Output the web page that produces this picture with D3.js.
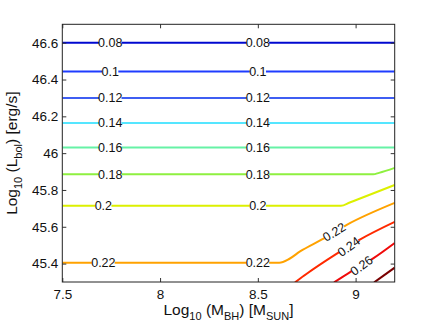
<!DOCTYPE html>
<html><head><meta charset="utf-8">
<script src="https://cdn.jsdelivr.net/npm/d3@7/dist/d3.min.js"></script>
<style>body{margin:0;background:#fff}svg{display:block}text{font-family:"Liberation Sans",Arial,sans-serif}</style>
</head><body><div id="c"></div>
<script>
const xTicks = [7.5, 8, 8.5, 9];
const yTicks = [45.4, 45.6, 45.8, 46, 46.2, 46.4, 46.6];
const levels = [0.08, 0.1, 0.12, 0.14, 0.16, 0.18, 0.2, 0.22, 0.24, 0.26, 0.28];
const levelColors = ["#0008d0", "#1f3cff", "#3f5ef2", "#55e6ff", "#66f2a6", "#8ef040", "#dcf000", "#ffa200", "#ff2a00", "#f00a0a", "#7a0000"];
// contour paths [log M_BH, log L_bol]
const c008 = [[7.5, 46.6], [9.2, 46.6]];
const c010 = [[7.5, 46.443], [9.2, 46.443]];
const c012 = [[7.5, 46.30], [9.2, 46.30]];
const c014 = [[7.5, 46.164], [9.2, 46.164]];
const c016 = [[7.5, 46.031], [9.2, 46.031]];
const c018 = [[7.5, 45.885], [9.09, 45.885], [9.12, 45.893], [9.2, 45.92]];
const c020 = [[7.5, 45.714], [8.925, 45.714], [8.97, 45.732], [9.2, 45.827]];
const c022 = [[7.5, 45.405], [8.61, 45.405], [8.66, 45.425], [8.716, 45.466], [8.828, 45.531], [8.955, 45.611], [9.2, 45.73]];
const c024 = [[8.69, 45.298], [8.75, 45.345], [8.896, 45.449], [9.024, 45.532], [9.2, 45.627]];
const c026 = [[8.89, 45.298], [8.972, 45.354], [9.088, 45.427], [9.2, 45.512]];
const c028 = [[9.095, 45.298], [9.2, 45.378]];
const contours = [c008, c010, c012, c014, c016, c018, c020, c022, c024, c026, c028];
// label positions [level index, x, y]
const labelsFlat = [[0, 7.745, 46.6], [1, 7.745, 46.443], [2, 7.745, 46.30], [3, 7.745, 46.164], [4, 7.745, 46.031], [5, 7.745, 45.885], [6, 7.71, 45.714], [7, 7.71, 45.405],
  [0, 8.5, 46.6], [1, 8.5, 46.443], [2, 8.5, 46.30], [3, 8.5, 46.164], [4, 8.5, 46.031], [5, 8.5, 45.885], [6, 8.5, 45.714], [7, 8.5, 45.405]];
const labelsCurve = [[7, 8.89, 45.572, -31], [8, 8.965, 45.493, -36], [9, 9.03, 45.39, -36]];

const W = 436, H = 328;
const m = {l: 62.3, t: 24.3, r: 394.7, b: 282};
const svg = d3.select("#c").append("svg").attr("width", W).attr("height", H);
const x = d3.scaleLinear().domain([7.5, 9.2]).range([m.l, m.r]);
const y = d3.scaleLinear().domain([45.3, 46.7]).range([m.b, m.t]);

svg.append("defs").append("clipPath").attr("id", "clip").append("rect")
  .attr("x", m.l).attr("y", m.t).attr("width", m.r - m.l).attr("height", m.b - m.t);

const line = d3.line().x(d => x(d[0])).y(d => y(d[1])).curve(d3.curveMonotoneX);
const g = svg.append("g").attr("clip-path", "url(#clip)");
contours.forEach((c, i) => {
  g.append("path").attr("d", line(c)).attr("fill", "none")
    .attr("stroke", levelColors[i]).attr("stroke-width", 2);
});
function fmt(v) { return String(+v.toFixed(2)); }
labelsFlat.forEach(([i, lx, ly]) => {
  const t = fmt(levels[i]);
  const w = t.length * 6.4 - 3;
  g.append("rect").attr("x", x(lx) - w / 2).attr("y", y(ly) - 3).attr("width", w).attr("height", 6).attr("fill", "#fff");
  g.append("text").attr("x", x(lx)).attr("y", y(ly) + 4.5).attr("text-anchor", "middle")
    .attr("font-size", 12.5).attr("fill", "#111").text(t);
});
labelsCurve.forEach(([i, lx, ly, a]) => {
  const t = fmt(levels[i]);
  const w = t.length * 6.4 - 3;
  const gg = g.append("g").attr("transform", `translate(${x(lx)},${y(ly)}) rotate(${a})`);
  gg.append("rect").attr("x", -w / 2).attr("y", -3).attr("width", w).attr("height", 6).attr("fill", "#fff");
  gg.append("text").attr("y", 4.5).attr("text-anchor", "middle").attr("font-size", 12.5).attr("fill", "#111").text(t);
});

// axes (MATLAB style, ticks inward)
const tl = 4;
svg.append("g").attr("transform", `translate(0,${m.b})`)
  .call(d3.axisBottom(x).tickValues(xTicks).tickSize(-tl).tickPadding(7).tickFormat(d => d))
  .call(s => { s.select(".domain").remove(); s.selectAll("text").attr("font-size", 13.5).attr("fill", "#111").attr("dy", "0.71em"); s.selectAll("line").attr("stroke", "#333"); });
svg.append("g").attr("transform", `translate(0,${m.t})`)
  .call(d3.axisTop(x).tickValues(xTicks).tickSize(-tl).tickFormat(""))
  .call(s => { s.select(".domain").remove(); s.selectAll("line").attr("stroke", "#333"); });
svg.append("g").attr("transform", `translate(${m.l},0)`)
  .call(d3.axisLeft(y).tickValues(yTicks).tickSize(-tl).tickPadding(4).tickFormat(d => String(d)))
  .call(s => { s.select(".domain").remove(); s.selectAll("text").attr("font-size", 13.5).attr("fill", "#111"); s.selectAll("line").attr("stroke", "#333"); });
svg.append("g").attr("transform", `translate(${m.r},0)`)
  .call(d3.axisRight(y).tickValues(yTicks).tickSize(-tl).tickFormat(""))
  .call(s => { s.select(".domain").remove(); s.selectAll("line").attr("stroke", "#333"); });
svg.append("rect").attr("x", m.l).attr("y", m.t).attr("width", m.r - m.l).attr("height", m.b - m.t)
  .attr("fill", "none").attr("stroke", "#222").attr("stroke-width", 1);

// axis titles
const xt = svg.append("text").attr("x", (m.l + m.r) / 2).attr("y", 315).attr("text-anchor", "middle").attr("font-size", 15.5).attr("fill", "#111");
xt.append("tspan").text("Log");
xt.append("tspan").attr("font-size", 11).attr("dy", 5).text("10");
xt.append("tspan").attr("dy", -5).text(" (M");
xt.append("tspan").attr("font-size", 11).attr("dy", 5).text("BH");
xt.append("tspan").attr("dy", -5).text(") [M");
xt.append("tspan").attr("font-size", 11).attr("dy", 5).text("SUN");
xt.append("tspan").attr("dy", -5).text("]");
const yt = svg.append("text").attr("transform", `translate(17,${(m.t + m.b) / 2}) rotate(-90)`).attr("text-anchor", "middle").attr("font-size", 15.5).attr("fill", "#111");
yt.append("tspan").text("Log");
yt.append("tspan").attr("font-size", 11).attr("dy", 5).text("10");
yt.append("tspan").attr("dy", -5).text(" (L");
yt.append("tspan").attr("font-size", 11).attr("dy", 5).text("bol");
yt.append("tspan").attr("dy", -5).text(") [erg/s]");
</script></body></html>
